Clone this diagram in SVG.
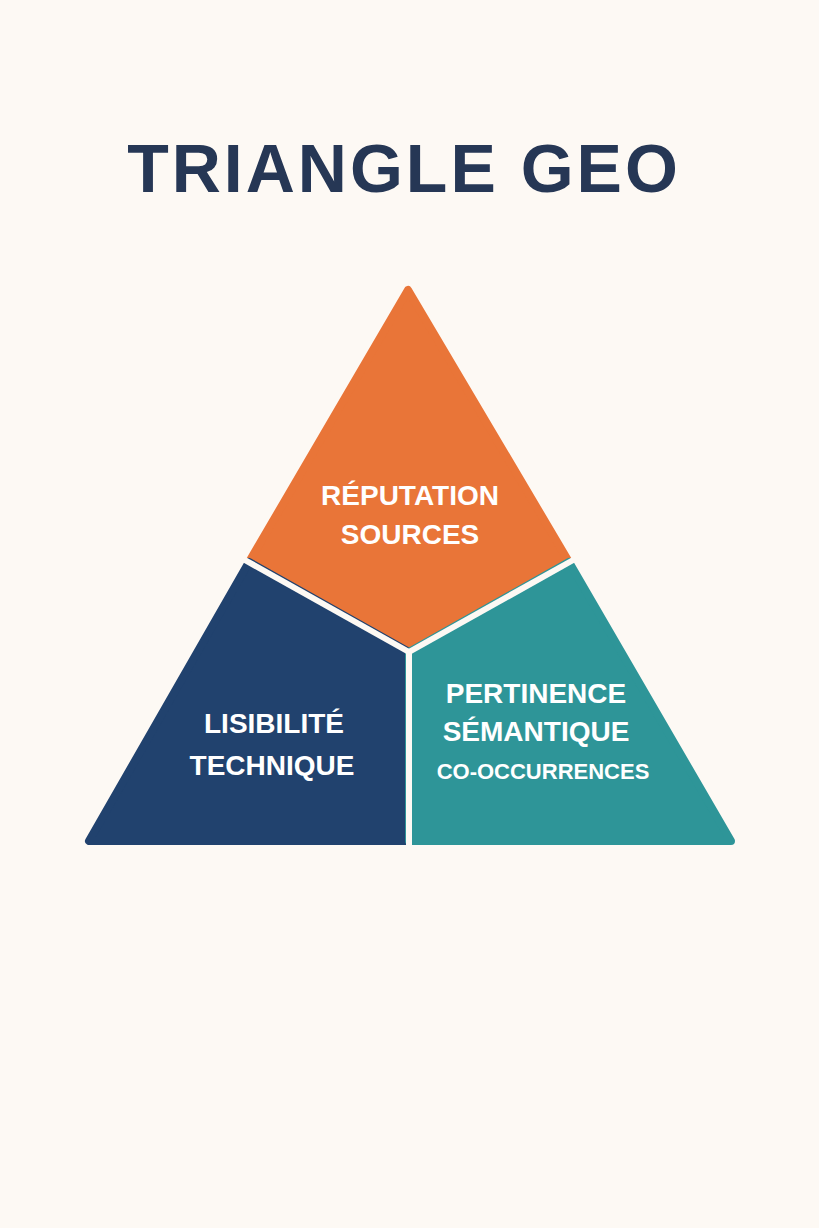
<svg xmlns="http://www.w3.org/2000/svg" width="819" height="1228" viewBox="0 0 819 1228">
<style>
.seg{stroke-width:8;stroke-linejoin:round}
.lbl{font-family:"Liberation Sans",Arial,sans-serif;font-weight:bold;fill:#ffffff;text-anchor:middle}
</style>
<rect width="819" height="1228" fill="#FDF9F4"/>
<text x="404" y="192" font-family="Liberation Sans,Arial,sans-serif" font-weight="bold" font-size="68" fill="#263755" text-anchor="middle" letter-spacing="3">TRIANGLE GEO</text>
<g id="reputation"><polygon class="seg" fill="#E97538" stroke="#E97538" points="408,290 249,562 409,652 569,562"/>
<text class="lbl" x="410" y="505" font-size="28">RÉPUTATION</text><text class="lbl" x="410" y="544" font-size="28">SOURCES</text></g>
<g id="lisibilite"><polygon class="seg" fill="#21426E" stroke="#21426E" points="249,562 89,841 409,841 409,652"/>
<text class="lbl" x="274" y="733" font-size="28">LISIBILITÉ</text><text class="lbl" x="272" y="775" font-size="28">TECHNIQUE</text></g>
<g id="pertinence"><polygon class="seg" fill="#2E9598" stroke="#2E9598" points="409,652 409,841 731,841 569,562"/>
<text class="lbl" x="536" y="703" font-size="28">PERTINENCE</text><text class="lbl" x="536" y="741" font-size="28">SÉMANTIQUE</text><text class="lbl" x="543" y="779" font-size="22" font-weight="normal">CO-OCCURRENCES</text></g>
<g id="connectors" stroke="#FDF9F4" stroke-width="6" fill="none">
<line x1="243" y1="559" x2="409" y2="652"/><line x1="575" y1="559" x2="409" y2="652"/><line x1="409" y1="652" x2="409" y2="850"/>
</g>
</svg>
